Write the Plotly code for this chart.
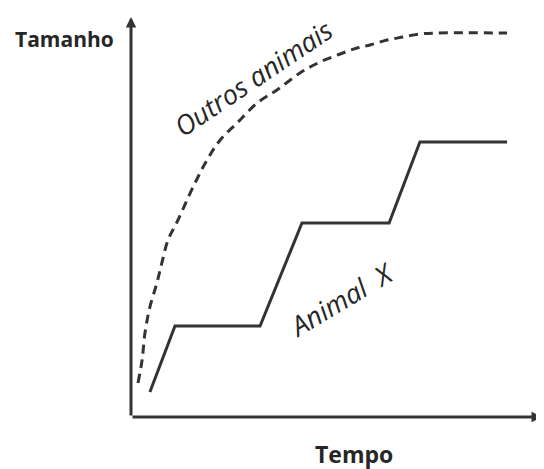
import plotly.graph_objects as go

# Data (arbitrary units: time 0-100, size 0-100)
outros_t = [1.7, 2.7, 3.4, 4.6, 6.3, 7.5, 9.0, 11.2, 15.1, 18.5, 21.7, 25.8, 30.7, 35.5,
            41.1, 46.0, 50.9, 55.0, 58.2, 62.3, 66.2, 70.3, 74.5, 91.5]
outros_s = [8.5, 14.25, 21.0, 27.5, 33.5, 38.5, 44.25, 48.75, 57.5, 64.25, 69.25, 73.5, 78.5, 81.75,
            86.0, 88.75, 90.75, 92.25, 93.0, 94.25, 95.0, 95.75, 96.0, 96.0]

animal_t = [4.6, 10.7, 31.4, 41.6, 62.8, 70.3, 91.5]
animal_s = [6.25, 22.75, 22.75, 48.5, 48.5, 68.75, 68.75]

x_title = "Tempo"
y_title = "Tamanho"
label_outros = "Outros animais"
label_animal = "Animal  X"

LINE = "#333333"
TEXT = "#262626"

fig = go.Figure()
fig.add_trace(go.Scatter(x=outros_t, y=outros_s, mode="lines", line_shape="spline",
                         line=dict(color=LINE, width=3, dash="9px,6px"),
                         hoverinfo="skip", showlegend=False))
fig.add_trace(go.Scatter(x=animal_t, y=animal_s, mode="lines",
                         line=dict(color=LINE, width=3),
                         hoverinfo="skip", showlegend=False))

annotations = [
    # axes arrows
    dict(x=0, y=100, ax=0, ay=0, xref="x", yref="y", axref="x", ayref="y", text="",
         showarrow=True, arrowhead=2, arrowsize=0.7, arrowwidth=3, arrowcolor=LINE, standoff=0),
    dict(x=100, y=0, ax=0, ay=0, xref="x", yref="y", axref="x", ayref="y", text="",
         showarrow=True, arrowhead=2, arrowsize=0.7, arrowwidth=3, arrowcolor=LINE, standoff=0),
    # axis titles
    dict(x=-0.163, y=0.945, xref="paper", yref="paper", text="<b>%s</b>" % y_title,
         showarrow=False, font=dict(family="Open Sans", size=21, color=TEXT),
         xanchor="center", yanchor="middle"),
    dict(x=0.5426, y=-0.0925, xref="paper", yref="paper", text="<b>%s</b>" % x_title,
         showarrow=False, font=dict(family="Open Sans", size=23, color=TEXT),
         xanchor="center", yanchor="middle"),
    # series labels
    dict(x=29.8, y=85.0, xref="x", yref="y", text="<i>%s</i>" % label_outros,
         showarrow=False, textangle=-34, font=dict(family="Open Sans", size=27, color=TEXT),
         xanchor="center", yanchor="middle"),
    dict(x=51.0, y=29.5, xref="x", yref="y", text="<i>%s</i>" % label_animal,
         showarrow=False, textangle=-31, font=dict(family="Open Sans", size=27, color=TEXT),
         xanchor="center", yanchor="middle"),
]

# the page body has an 8px default margin, so the figure is 8px smaller
fig.update_layout(
    width=536, height=461,
    margin=dict(l=123, r=2, t=9, b=52),
    paper_bgcolor="white", plot_bgcolor="white",
    xaxis=dict(range=[0, 100], visible=False, fixedrange=True),
    yaxis=dict(range=[0, 100], visible=False, fixedrange=True),
    annotations=annotations,
    hovermode=False,
)

fig.write_html("out.html", config={"displayModeBar": False})
